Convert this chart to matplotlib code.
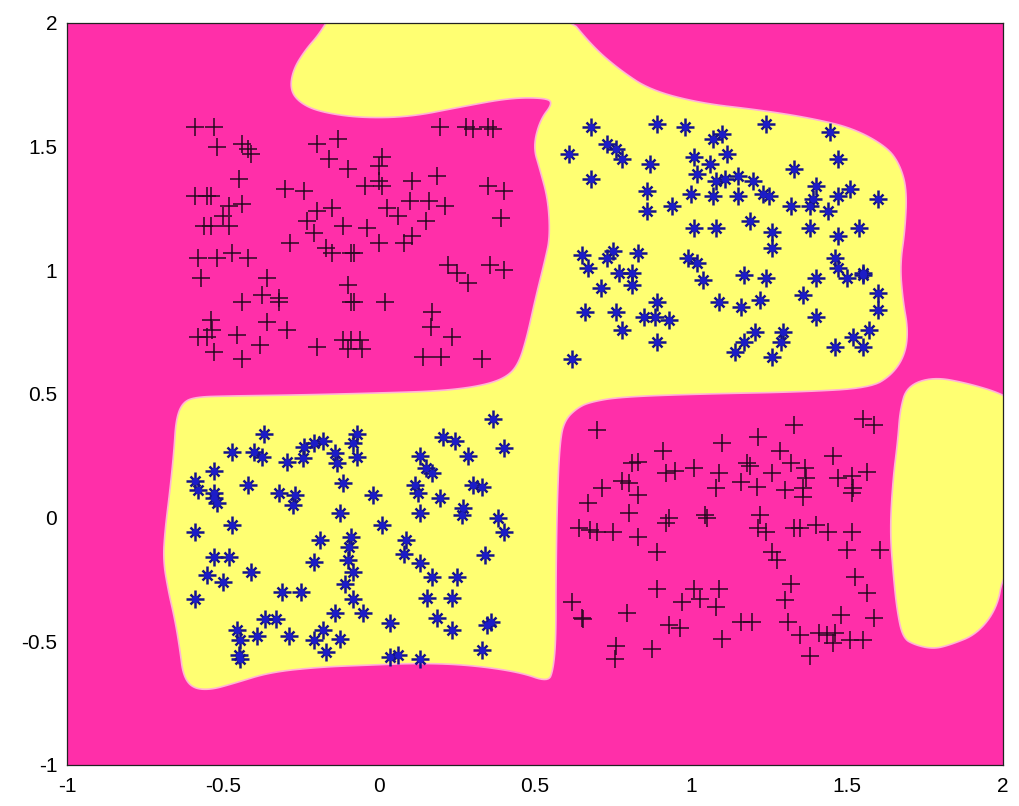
import numpy as np
import matplotlib
matplotlib.use("Agg")
import matplotlib.pyplot as plt
from matplotlib.patches import Polygon

# class A (black +), upper-left cluster
tl_x = [-0.59, -0.53, -0.52, -0.44, -0.42, -0.41, -0.45, -0.59, -0.55, -0.54,
        -0.48, -0.44, -0.50, -0.56, -0.54, -0.48, -0.58, -0.52, -0.47, -0.42,
        -0.57, -0.36, -0.375, -0.32, -0.32, -0.44, -0.54, -0.535, -0.58, -0.55,
        -0.455, -0.36, -0.295, -0.53, -0.44, -0.38, -0.20, -0.115, -0.09, -0.10,
        -0.30, -0.24, -0.20, -0.13, -0.16, -0.10, -0.23, -0.20, -0.15, -0.21,
        -0.115, -0.285, -0.17, -0.15, -0.09, -0.10, -0.09,
        0.195, 0.28, 0.30, 0.35, 0.365, 0.01, 0.00, 0.00, 0.01, -0.045,
        0.105, 0.185, 0.35, 0.40, 0.10, 0.16, 0.21, 0.025, 0.06, 0.15,
        0.39, -0.04, 0.00, 0.08, 0.105, -0.08, 0.22, 0.25, 0.285, 0.355,
        0.40, -0.08, 0.02, 0.17, 0.165, 0.235, -0.06, -0.055, 0.14, 0.20, 0.33]
tl_y = [1.58, 1.58, 1.50, 1.51, 1.49, 1.47, 1.37, 1.30, 1.30, 1.30,
        1.26, 1.27, 1.22, 1.18, 1.18, 1.18, 1.05, 1.05, 1.07, 1.05,
        0.97, 0.97, 0.90, 0.89, 0.87, 0.87, 0.80, 0.76, 0.73, 0.73,
        0.74, 0.79, 0.76, 0.67, 0.64, 0.70, 0.69, 0.72, 0.72, 0.68,
        1.33, 1.32, 1.51, 1.53, 1.45, 1.41, 1.20, 1.24, 1.25, 1.15,
        1.18, 1.11, 1.09, 1.07, 1.07, 0.94, 0.87,
        1.58, 1.58, 1.57, 1.58, 1.57, 1.46, 1.42, 1.36, 1.34, 1.34,
        1.36, 1.38, 1.34, 1.32, 1.28, 1.28, 1.26, 1.25, 1.22, 1.20,
        1.21, 1.17, 1.11, 1.11, 1.14, 1.07, 1.02, 0.99, 0.95, 1.02,
        1.00, 0.87, 0.87, 0.83, 0.77, 0.73, 0.72, 0.68, 0.65, 0.65, 0.64]

# class A (black +), lower-right cluster
br_x = [0.70, 0.91, 1.10, 0.81, 0.83, 0.92, 0.95, 1.01, 1.09, 0.78,
        0.80, 0.715, 0.83, 1.08, 0.67, 0.80, 0.93, 0.92, 1.045, 1.05,
        0.64, 0.675, 0.70, 0.75, 0.83, 0.89, 0.89, 1.01, 0.97, 1.03,
        1.09, 1.08, 0.62, 0.65, 0.655, 0.795, 0.93, 0.965, 1.10, 0.76,
        0.755, 0.875,
        1.33, 1.55, 1.585, 1.215, 1.285, 1.455, 1.18, 1.19, 1.32, 1.26,
        1.365, 1.37, 1.16, 1.21, 1.30, 1.36, 1.36, 1.47, 1.515, 1.565,
        1.52, 1.515, 1.22, 1.215, 1.24, 1.33, 1.35, 1.40, 1.44, 1.515,
        1.50, 1.605, 1.26, 1.275, 1.525, 1.565, 1.32, 1.30,
        1.48, 1.585, 1.16, 1.195, 1.31, 1.35, 1.41, 1.435, 1.46, 1.51, 1.55,
        1.38, 1.455]
br_y = [0.355, 0.27, 0.30, 0.22, 0.225, 0.18, 0.19, 0.20, 0.18, 0.15,
        0.14, 0.12, 0.09, 0.12, 0.06, 0.02, 0.00, -0.02, 0.01, 0.00,
        -0.04, -0.05, -0.06, -0.06, -0.08, -0.14, -0.29, -0.29, -0.34, -0.33,
        -0.29, -0.36, -0.34, -0.405, -0.41, -0.385, -0.435, -0.445, -0.49, -0.52,
        -0.57, -0.53,
        0.375, 0.40, 0.375, 0.325, 0.27, 0.25, 0.22, 0.21, 0.22, 0.18,
        0.20, 0.16, 0.145, 0.125, 0.11, 0.12, 0.085, 0.16, 0.17, 0.185,
        0.12, 0.10, 0.01, -0.04, -0.06, -0.04, -0.04, -0.03, -0.06, -0.06,
        -0.13, -0.13, -0.14, -0.17, -0.24, -0.305, -0.27, -0.335,
        -0.395, -0.405, -0.42, -0.42, -0.42, -0.475, -0.465, -0.475, -0.465, -0.495, -0.495,
        -0.56, -0.505]

# class B (blue *), upper-right cluster
tr_x = [0.68, 0.89, 0.98, 1.07, 1.10, 0.61, 0.73, 0.76, 0.78, 0.87,
        1.01, 1.06, 1.02, 1.115, 0.68, 0.86, 0.86, 0.94, 1.00, 1.07,
        1.08, 1.11, 1.01, 1.08, 0.65, 0.67, 0.73, 0.75, 0.83, 0.99,
        1.02, 0.77, 0.81, 0.81, 0.71, 1.04, 1.09, 0.89, 0.66, 0.76,
        0.85, 0.885, 0.93, 0.78, 0.89, 0.62,
        1.24, 1.445, 1.47, 1.33, 1.15, 1.15, 1.20, 1.23, 1.25, 1.40,
        1.39, 1.32, 1.38, 1.44, 1.47, 1.51, 1.60, 1.19, 1.26, 1.26,
        1.38, 1.47, 1.54, 1.46, 1.47, 1.50, 1.55, 1.55, 1.17, 1.24,
        1.40, 1.16, 1.22, 1.36, 1.40, 1.60, 1.60, 1.205, 1.17, 1.14,
        1.26, 1.295, 1.29, 1.46, 1.52, 1.55, 1.57]
tr_y = [1.58, 1.59, 1.58, 1.53, 1.55, 1.47, 1.51, 1.49, 1.45, 1.43,
        1.46, 1.43, 1.39, 1.47, 1.37, 1.32, 1.24, 1.26, 1.31, 1.30,
        1.36, 1.37, 1.17, 1.17, 1.06, 1.01, 1.05, 1.08, 1.07, 1.05,
        1.03, 0.99, 0.99, 0.94, 0.93, 0.96, 0.87, 0.87, 0.83, 0.83,
        0.81, 0.81, 0.80, 0.76, 0.71, 0.64,
        1.59, 1.56, 1.45, 1.41, 1.38, 1.30, 1.36, 1.31, 1.30, 1.34,
        1.29, 1.26, 1.26, 1.24, 1.30, 1.33, 1.29, 1.20, 1.155, 1.09,
        1.17, 1.14, 1.17, 1.05, 1.01, 0.97, 0.99, 0.98, 0.98, 0.97,
        0.97, 0.85, 0.88, 0.90, 0.81, 0.91, 0.84, 0.75, 0.71, 0.67,
        0.65, 0.75, 0.71, 0.69, 0.73, 0.69, 0.76]

# class B (blue *), lower-left cluster
bl_x = [-0.37, -0.47, -0.40, -0.375, -0.295, -0.24, -0.21, -0.18, -0.245, -0.14,
        -0.135, -0.53, -0.59, -0.58, -0.53, -0.52, -0.53, -0.42, -0.32, -0.27,
        -0.275, -0.115, -0.47, -0.59, -0.125, -0.19, -0.53, -0.48, -0.21, -0.41,
        -0.55, -0.50, -0.31, -0.25, -0.59, -0.365, -0.33, -0.14, -0.455, -0.445,
        -0.39, -0.29, -0.18, -0.21, -0.125, -0.45, -0.445, -0.17,
        0.365, -0.07, -0.085, -0.07, 0.205, 0.245, 0.285, 0.40, 0.13, 0.15,
        0.17, -0.02, 0.115, 0.125, 0.195, 0.30, 0.33, 0.27, 0.265, 0.13,
        0.38, 0.40, 0.01, -0.09, -0.095, -0.10, -0.085, 0.085, 0.08, 0.13,
        0.17, 0.25, 0.34, -0.11, -0.085, -0.05, 0.155, 0.235, 0.185, 0.035,
        0.235, 0.345, 0.36, 0.035, 0.06, 0.13, 0.33]
bl_y = [0.34, 0.265, 0.265, 0.245, 0.225, 0.285, 0.30, 0.31, 0.24, 0.26,
        0.22, 0.19, 0.15, 0.11, 0.10, 0.06, 0.08, 0.13, 0.10, 0.09,
        0.05, 0.14, -0.03, -0.06, 0.02, -0.09, -0.16, -0.16, -0.18, -0.22,
        -0.23, -0.26, -0.30, -0.30, -0.33, -0.41, -0.41, -0.385, -0.455, -0.495,
        -0.48, -0.48, -0.455, -0.495, -0.49, -0.555, -0.57, -0.545,
        0.40, 0.34, 0.30, 0.245, 0.325, 0.31, 0.25, 0.28, 0.25, 0.20,
        0.18, 0.09, 0.13, 0.10, 0.08, 0.13, 0.125, 0.04, 0.01, 0.02,
        0.00, -0.06, -0.03, -0.08, -0.12, -0.17, -0.22, -0.09, -0.145, -0.185,
        -0.24, -0.24, -0.15, -0.27, -0.33, -0.385, -0.325, -0.325, -0.405, -0.425,
        -0.455, -0.435, -0.42, -0.565, -0.555, -0.57, -0.535]

# outline of the yellow (class B) decision region, main piece
region_x = [-0.147, 0.59, 0.686, 0.772, 0.869, 1.029, 1.221, 1.381, 1.519, 1.628,
            1.670, 1.692, 1.686, 1.670, 1.679, 1.696, 1.686, 1.644, 1.574, 1.349,
            1.029, 0.772, 0.676, 0.635, 0.596, 0.580, 0.571, 0.567, 0.567, 0.558,
            0.542, 0.452, 0.292, 0.131, -0.029, -0.189, -0.349, -0.462, -0.542, -0.599,
            -0.628, -0.638, -0.654, -0.676, -0.692, -0.686, -0.670, -0.657, -0.651, -0.631,
            -0.590, -0.478, -0.253, 0.003, 0.196, 0.324, 0.404, 0.446, 0.474, 0.500,
            0.532, 0.548, 0.542, 0.516, 0.494, 0.516, 0.558, 0.532, 0.420, 0.260,
            0.099, -0.061, -0.189, -0.253, -0.285, -0.276, -0.237, -0.189]
region_y = [2.05, 2.05, 1.903, 1.81, 1.729, 1.676, 1.648, 1.616, 1.575, 1.499,
            1.426, 1.325, 1.163, 1.022, 0.880, 0.759, 0.658, 0.577, 0.524, 0.508,
            0.500, 0.488, 0.467, 0.443, 0.395, 0.314, 0.071, -0.253, -0.495, -0.617,
            -0.665, -0.625, -0.596, -0.588, -0.596, -0.604, -0.625, -0.669, -0.697, -0.689,
            -0.637, -0.536, -0.414, -0.293, -0.172, -0.050, 0.112, 0.273, 0.395, 0.464,
            0.488, 0.492, 0.496, 0.504, 0.512, 0.532, 0.564, 0.617, 0.730, 0.880,
            1.042, 1.135, 1.284, 1.406, 1.499, 1.608, 1.677, 1.697, 1.697, 1.660,
            1.620, 1.616, 1.640, 1.676, 1.729, 1.810, 1.890, 1.959]

# right-hand yellow blob
blob_x = [1.692, 1.776, 1.885, 2.0, 2.05, 2.05, 2.0, 1.981, 1.917, 1.830,
          1.776, 1.718, 1.679, 1.660, 1.647, 1.638, 1.647, 1.663, 1.670]
blob_y = [0.532, 0.569, 0.544, 0.50, 0.45, -0.20, -0.232, -0.366, -0.471, -0.515,
          -0.531, -0.515, -0.487, -0.374, -0.212, -0.050, 0.152, 0.314, 0.435]

ticks = [-1, -0.5, 0, 0.5, 1, 1.5, 2]
tick_labels = ['-1', '-0.5', '0', '0.5', '1', '1.5', '2']

MAGENTA = '#ff2fa9'
YELLOW = '#ffff72'


def smooth(x, y, n=3):
    # chaikin corner cutting on a closed outline
    p = np.column_stack([x, y]).astype(float)
    for _ in range(n):
        q = np.roll(p, -1, axis=0)
        new = np.empty((2 * len(p), 2))
        new[0::2] = 0.75 * p + 0.25 * q
        new[1::2] = 0.25 * p + 0.75 * q
        p = new
    return p


plt.rcParams['font.family'] = ['Liberation Sans', 'DejaVu Sans']

fig = plt.figure(figsize=(10.19, 8.06), dpi=100)
ax = fig.add_axes([0.0658, 0.0509, 0.9185, 0.9206])
ax.set_facecolor(MAGENTA)

for xs, ys in [(region_x, region_y), (blob_x, blob_y)]:
    ax.add_patch(Polygon(smooth(xs, ys), closed=True, facecolor=YELLOW,
                         edgecolor='#ffb3d6', linewidth=1.2, zorder=1))

# black plus markers
for xs, ys in [(tl_x, tl_y), (br_x, br_y)]:
    ax.plot(xs, ys, linestyle='none', marker='+', markersize=13,
            markeredgewidth=1.1, color='#2b0822', zorder=3)

# blue asterisks
for xs, ys in [(tr_x, tr_y), (bl_x, bl_y)]:
    ax.plot(xs, ys, linestyle='none', marker='+', markersize=13,
            markeredgewidth=1.8, color='#14128a', zorder=3)
    ax.plot(xs, ys, linestyle='none', marker='x', markersize=7.5,
            markeredgewidth=1.8, color='#14128a', zorder=3)
    ax.plot(xs, ys, linestyle='none', marker='o', markersize=5,
            markeredgewidth=0, color='#1c1cc8', zorder=4)

ax.set_xlim(-1, 2)
ax.set_ylim(-1, 2)
ax.set_xticks(ticks)
ax.set_xticklabels(tick_labels)
ax.set_yticks(ticks)
ax.set_yticklabels(tick_labels)
ax.tick_params(length=0, labelsize=15)
ax.tick_params(axis='x', pad=9)
ax.tick_params(axis='y', pad=7)
for s in ax.spines.values():
    s.set_linewidth(0.9)
    s.set_color('#222222')

fig.savefig('out.png', dpi=100)
